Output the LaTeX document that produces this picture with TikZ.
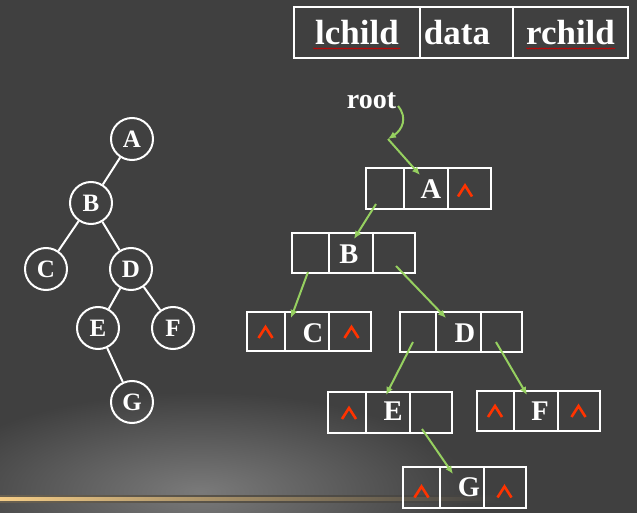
\documentclass[tikz,border=0pt]{standalone}
\usepackage{fontspec}
\setmainfont{Liberation Serif}
\usetikzlibrary{arrows.meta,decorations.pathmorphing}
\definecolor{bg}{RGB}{64,64,64}
\definecolor{glow}{RGB}{122,122,122}
\definecolor{gold}{RGB}{245,205,135}
\definecolor{ptrgreen}{RGB}{150,208,96}
\definecolor{nullred}{RGB}{255,51,0}
\newcommand\rec[7]{%
  \node[cell,minimum width={(#3-#2)*1pt},minimum height={(#7-#6)*1pt}] (#1l) at ({(#2+#3)/2},{(#6+#7)/2}) {};
  \node[cell,minimum width={(#4-#3)*1pt},minimum height={(#7-#6)*1pt}] (#1d) at ({(#3+#4)/2},{(#6+#7)/2}) {};
  \node[cell,minimum width={(#5-#4)*1pt},minimum height={(#7-#6)*1pt}] (#1r) at ({(#4+#5)/2},{(#6+#7)/2}) {};
}
\newcommand\nul[2]{\draw[nullmark] ({#1-7},{#2+5.5}) -- ({#1},{#2-5.5}) -- ({#1+7},{#2+5.5});}
\begin{document}
\begin{tikzpicture}[x=1pt,y=-1pt,
  cell/.style={draw=white,line width=2.4pt,inner sep=0pt,rectangle},
  hcell/.style={draw=white,line width=2pt,inner sep=0pt,rectangle},
  lab/.style={text=white,font=\fontsize{28.5}{30}\selectfont\bfseries,inner sep=0pt},
  hdr/.style={text=white,font=\fontsize{35}{38}\selectfont\bfseries,inner sep=0pt,anchor=base},
  vert/.style={circle,draw=white,line width=2pt,minimum size=42pt,inner sep=0pt,text=white,font=\fontsize{25}{27}\selectfont\bfseries},
  edge/.style={draw=white,line width=2pt},
  ptr/.style={draw=ptrgreen,line width=2pt,-{Latex[length=8pt,width=7pt]}},
  nullmark/.style={draw=nullred,line width=2.6pt,miter limit=10},
  squig/.style={draw=red!80!black,line width=0.6pt,decorate,decoration={snake,segment length=2.5pt,amplitude=0.6pt}}]
\useasboundingbox (0,0) rectangle (637,513);
\fill[bg] (0,0) rectangle (637,513);
\begin{scope}
  \clip (0,0) rectangle (637,513);
  \shade[inner color=glow,outer color=bg] (200,492) ellipse [x radius=270,y radius=100];
  \shade[left color=gold!22!bg,middle color=gold!22!bg,right color=bg] (0,495.5) rectangle (520,502.5);
  \shade[left color=gold,middle color=gold,right color=bg] (0,497.8) rectangle (500,500.2);
\end{scope}

% header
\node[hcell,minimum width=126pt,minimum height=51pt] (h1) at (357,32.5) {};
\node[hcell,minimum width=93pt,minimum height=51pt] (h2) at (466.5,32.5) {};
\node[hcell,minimum width=115pt,minimum height=51pt] (h3) at (570.5,32.5) {};
\node[hdr] (hl) at (357,44.5) {lchild};
\node[hdr] (hd) at (457,44.5) {data};
\node[hdr] (hr) at (570.5,44.5) {rchild};
\draw[squig] (313,48.5) -- (400,48.5);
\draw[squig] (526,48.5) -- (615,48.5);

% left tree
\node[vert] (cA) at (132,139) {A};
\node[vert] (cB) at (91,203) {B};
\node[vert] (cC) at (46,269) {C};
\node[vert] (cD) at (131,269) {D};
\node[vert] (cE) at (98,328) {E};
\node[vert] (cF) at (173,328) {F};
\node[vert] (cG) at (132,402) {G};
\draw[edge] (cA) -- (cB);
\draw[edge] (cB) -- (cC);
\draw[edge] (cB) -- (cD);
\draw[edge] (cD) -- (cE);
\draw[edge] (cD) -- (cF);
\draw[edge] (cE) -- (cG);

% linked records
\rec{A}{366}{404}{448}{491}{168}{209}
\rec{B}{292}{329}{373}{415}{233}{273}
\rec{C}{247}{285}{329}{371}{312}{351}
\rec{D}{400}{436}{481}{522}{312}{352}
\rec{E}{328}{366}{410}{452}{392}{433}
\rec{F}{477}{514}{558}{600}{391}{431}
\rec{G}{403}{440}{484}{526}{467}{508}
\node[lab] (tA) at (431,189.5) {A};
\node[lab] (tB) at (349,254) {B};
\node[lab] (tC) at (313,333) {C};
\node[lab] (tD) at (465,333) {D};
\node[lab] (tE) at (393,411.5) {E};
\node[lab] (tF) at (540,411) {F};
\node[lab] (tG) at (469,487.5) {G};

\nul{465}{191}
\nul{265.5}{332.5}
\nul{351.5}{332.5}
\nul{349}{413.5}
\nul{495}{411.5}
\nul{578.5}{411.5}
\nul{421.5}{492}
\nul{504.5}{492}

% root
\node[text=white,font=\fontsize{28}{30}\selectfont\bfseries,inner sep=0pt,anchor=base] (root) at (371.5,109) {root};
\coordinate (r0) at (398,106);
\coordinate (r1) at (388,139);
\coordinate (r2) at (420,175);
\draw[ptr] (r0) .. controls (408,118) and (402,130) .. (r1);
\draw[ptr] (r1) -- (r2);

\coordinate (sAB) at (376,204); \coordinate (eAB) at (354,239);
\coordinate (sBC) at (308,272); \coordinate (eBC) at (291,318);
\coordinate (sBD) at (396,266); \coordinate (eBD) at (446,318);
\coordinate (sDE) at (413,342); \coordinate (eDE) at (386,395);
\coordinate (sDF) at (496,342); \coordinate (eDF) at (527,395);
\coordinate (sEG) at (422,429); \coordinate (eEG) at (453,474);
\draw[ptr] (sAB) -- (eAB);
\draw[ptr] (sBC) -- (eBC);
\draw[ptr] (sBD) -- (eBD);
\draw[ptr] (sDE) -- (eDE);
\draw[ptr] (sDF) -- (eDF);
\draw[ptr] (sEG) -- (eEG);
\end{tikzpicture}
\end{document}
